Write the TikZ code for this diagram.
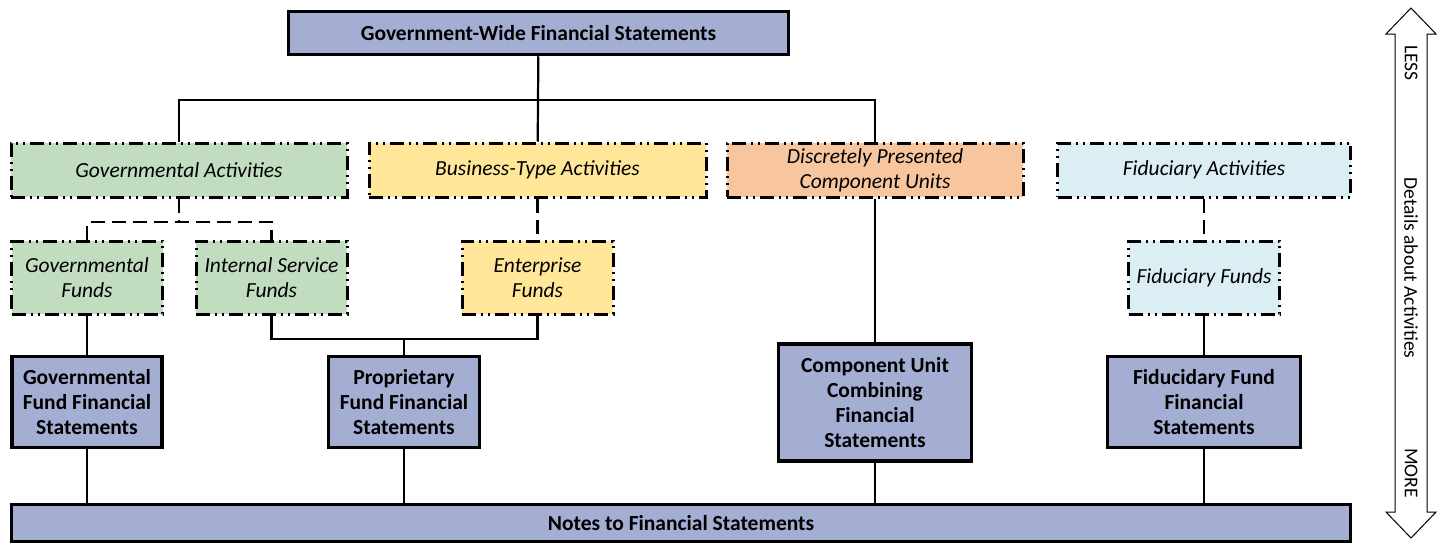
\documentclass[tikz,border=0pt]{standalone}
\usepackage{fontspec}
\setmainfont{Carlito}
\definecolor{stmtblue}{RGB}{164,174,211}
\definecolor{govgreen}{RGB}{193,220,191}
\definecolor{bizyellow}{RGB}{255,230,153}
\definecolor{unitorange}{RGB}{248,198,158}
\definecolor{fidblue}{RGB}{219,238,243}
\begin{document}
\fontsize{21.5}{25}\selectfont
\begin{tikzpicture}[x=1pt, y=-1pt,
  stmt/.style = {draw, line width=3.5pt, fill=stmtblue, font=\bfseries, align=center, inner sep=0pt},
  act/.style = {draw, line width=3pt, dash pattern=on 14pt off 5pt on 2pt off 5pt on 2pt off 5pt, font=\itshape, align=center, inner sep=0pt},
  link/.style = {line width=2.2pt},
  dlink/.style = {line width=2.5pt, dash pattern=on 14pt off 7pt},
  side/.style = {rotate=-90, font=\fontsize{19.5}{22}\selectfont}]
\useasboundingbox (0,0) rectangle (1442,544);

\node[stmt, minimum width=500, minimum height=43] (gw) at (538.5,33) {Government-Wide Financial Statements};

\node[act, fill=govgreen, minimum width=336, minimum height=54] (ga) at (179,170) {Governmental Activities};
\node[act, fill=bizyellow, minimum width=337, minimum height=54] (bt) at (537.5,170) {Business-Type Activities};
\node[act, fill=unitorange, minimum width=296, minimum height=54] (dp) at (875,170) {Discretely Presented\\Component Units};
\node[act, fill=fidblue, minimum width=293, minimum height=54] (fa) at (1204,170) {Fiduciary Activities};

\node[act, fill=govgreen, minimum width=151, minimum height=73] (gf) at (87,277.5) {Governmental\\Funds};
\node[act, fill=govgreen, minimum width=151, minimum height=73] (is) at (271.5,277.5) {Internal Service\\Funds};
\node[act, fill=bizyellow, minimum width=151, minimum height=73] (ef) at (537.5,277.5) {Enterprise\\Funds};
\node[act, fill=fidblue, minimum width=151, minimum height=73] (ff) at (1204,277.5) {Fiduciary Funds};

\node[stmt, minimum width=150, minimum height=91] (gs) at (87,402) {Governmental\\Fund Financial\\Statements};
\node[stmt, minimum width=151, minimum height=91] (ps) at (404,402) {Proprietary\\Fund Financial\\Statements};
\node[stmt, minimum width=193, minimum height=117] (cs) at (875,402.5) {Component Unit\\Combining\\Financial\\Statements};
\node[stmt, minimum width=193, minimum height=91] (fs) at (1204,402) {Fiducidary Fund\\Financial\\Statements};

\node[stmt, minimum width=1339, minimum height=37] (ns) at (681,523) {Notes to Financial Statements};

\coordinate (top) at (538,100);
\coordinate (gsplit) at (179,222);
\coordinate (psplit) at (404,339);

\draw[link] (gw) -- (bt);
\draw[link] (ga.north) |- (top) -| (dp.north);
\draw[dlink] (ga.south) -- (gsplit);
\draw[dlink] (gf.north) |- (gsplit) -| (is.north);
\draw[dlink] (bt.south) -- (ef.north);
\draw[dlink] (fa.south) -- (ff.north);
\draw[link] (is.south) |- (psplit) -| (ef.south);
\draw[link] (psplit) -- (ps.north);
\draw[link] (gf) -- (gs);
\draw[link] (dp) -- (cs);
\draw[link] (ff) -- (fs);
\foreach \n in {gs,ps,cs,fs}
  \draw[link] (\n.south) -- (\n.south |- ns.north);

\draw[line width=1pt, fill=white] (1411,8) -- (1436,34) -- (1427,34) -- (1427,512) -- (1436,512)
  -- (1411,538) -- (1386,512) -- (1395,512) -- (1395,34) -- (1386,34) -- cycle;
\node[side] (less) at (1411,63) {LESS};
\node[side] (detail) at (1411,268) {Details about Activities};
\node[side] (more) at (1411,473) {MORE};
\end{tikzpicture}
\end{document}
